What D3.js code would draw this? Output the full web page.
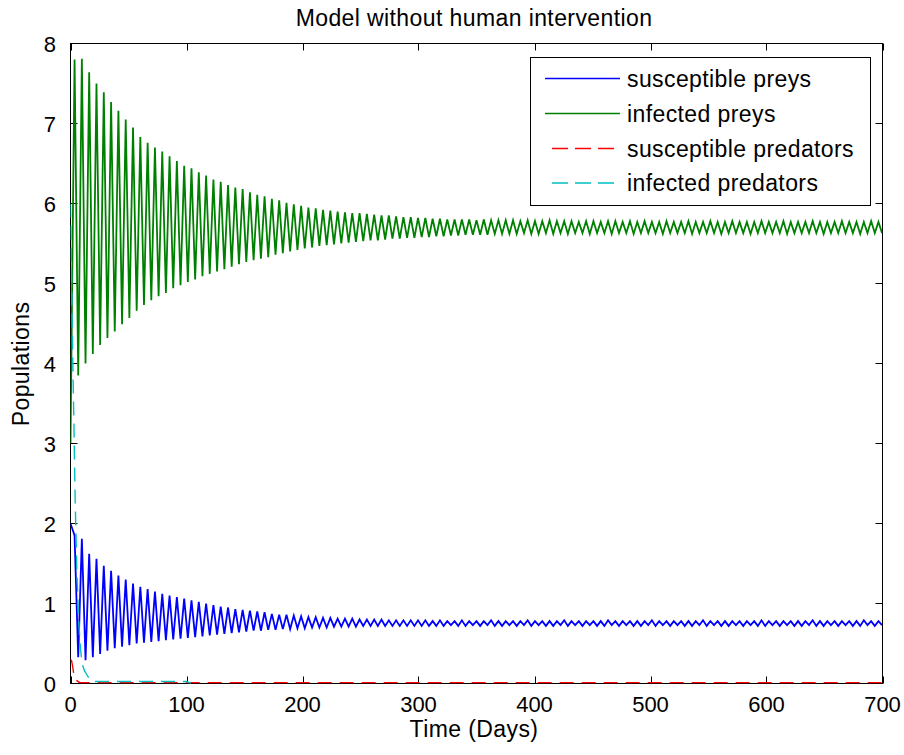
<!DOCTYPE html>
<html>
<head>
<meta charset="utf-8">
<script src="https://cdn.jsdelivr.net/npm/d3@7"></script>
<style>
    body { margin: 0; background: #fff; }
    text { font-family: "Liberation Sans", Arial, sans-serif; fill: #000; }
    .tick-label { font-size: 22px; }
    .label { font-size: 23px; letter-spacing: 0.4px; }
</style>
</head>
<body>
<div id="chart"></div>
<script>

// ---- data ----

// oscillation schedule: first peak and cycle length (days)
var firstPeakDay = 3.5;
var cycleDays = 6.3;

// susceptible preys: start value, then one peak and one trough per cycle
var susPreyStart = 2.0;
var susPreyPeaks = [
    1.85, 1.81, 1.62, 1.56, 1.47, 1.41, 1.35, 1.30, 1.25, 1.21,
    1.18, 1.15, 1.12, 1.10, 1.08, 1.06, 1.04, 1.02, 1.00, 0.98,
    0.96, 0.95, 0.93, 0.92, 0.91, 0.90, 0.89, 0.87, 0.86, 0.86,
    0.85, 0.84, 0.83, 0.83, 0.82, 0.82, 0.81, 0.81, 0.81, 0.80,
    0.80, 0.80, 0.80, 0.79, 0.79, 0.79, 0.79, 0.79, 0.79, 0.78,
    0.79, 0.78, 0.78, 0.79, 0.78, 0.78, 0.78, 0.79, 0.78, 0.78,
    0.78, 0.78, 0.79, 0.78, 0.78, 0.78, 0.78, 0.79, 0.78, 0.78,
    0.78, 0.78, 0.78, 0.79, 0.78, 0.78, 0.78, 0.78, 0.78, 0.79,
    0.78, 0.78, 0.78, 0.78, 0.78, 0.78, 0.79, 0.78, 0.78, 0.78,
    0.78, 0.78, 0.78, 0.78, 0.79, 0.78, 0.78, 0.78, 0.78, 0.78,
    0.78, 0.79, 0.78, 0.78, 0.78, 0.78, 0.78, 0.78, 0.79, 0.78, 0.78
];
var susPreyTroughs = [
    0.33, 0.29, 0.33, 0.37, 0.41, 0.44, 0.46, 0.48, 0.50, 0.51,
    0.52, 0.53, 0.54, 0.55, 0.56, 0.57, 0.58, 0.59, 0.60, 0.61,
    0.62, 0.63, 0.64, 0.65, 0.66, 0.66, 0.67, 0.67, 0.68, 0.68,
    0.69, 0.69, 0.70, 0.70, 0.70, 0.71, 0.71, 0.71, 0.71, 0.72,
    0.72, 0.72, 0.72, 0.72, 0.72, 0.72, 0.72, 0.72, 0.72, 0.72,
    0.72, 0.73, 0.72, 0.72, 0.73, 0.72, 0.73, 0.72, 0.72, 0.73,
    0.72, 0.73, 0.72, 0.73, 0.72, 0.72, 0.73, 0.72, 0.73, 0.72,
    0.73, 0.72, 0.72, 0.73, 0.72, 0.73, 0.72, 0.72, 0.73, 0.72,
    0.73, 0.72, 0.73, 0.72, 0.72, 0.73, 0.72, 0.73, 0.72, 0.72,
    0.73, 0.72, 0.73, 0.72, 0.72, 0.73, 0.72, 0.73, 0.72, 0.72,
    0.73, 0.72, 0.72, 0.73, 0.72, 0.73, 0.72, 0.72, 0.73, 0.72, 0.73
];

// infected preys
var infPreyStart = 3.0;
var infPreyPeaks = [
    7.80, 7.81, 7.64, 7.50, 7.39, 7.27, 7.16, 7.05, 6.95, 6.83,
    6.76, 6.70, 6.65, 6.59, 6.53, 6.47, 6.44, 6.39, 6.35, 6.30,
    6.27, 6.23, 6.20, 6.18, 6.14, 6.11, 6.09, 6.06, 6.04, 6.01,
    5.99, 5.97, 5.95, 5.94, 5.92, 5.91, 5.90, 5.89, 5.88, 5.88,
    5.87, 5.86, 5.85, 5.85, 5.84, 5.83, 5.83, 5.82, 5.82, 5.81,
    5.81, 5.80, 5.80, 5.80, 5.80, 5.79, 5.80, 5.79, 5.79, 5.79,
    5.79, 5.78, 5.79, 5.78, 5.78, 5.79, 5.78, 5.78, 5.78, 5.77,
    5.78, 5.78, 5.77, 5.78, 5.78, 5.77, 5.78, 5.77, 5.78, 5.77,
    5.77, 5.78, 5.77, 5.77, 5.78, 5.77, 5.77, 5.78, 5.77, 5.77,
    5.78, 5.77, 5.77, 5.77, 5.78, 5.77, 5.77, 5.78, 5.77, 5.77,
    5.77, 5.78, 5.77, 5.77, 5.77, 5.78, 5.77, 5.77, 5.77, 5.78, 5.77
];
var infPreyTroughs = [
    3.85, 4.00, 4.12, 4.23, 4.32, 4.40, 4.49, 4.57, 4.66, 4.73,
    4.79, 4.84, 4.88, 4.94, 4.98, 5.02, 5.05, 5.09, 5.12, 5.15,
    5.18, 5.21, 5.24, 5.27, 5.29, 5.31, 5.33, 5.36, 5.38, 5.40,
    5.42, 5.44, 5.45, 5.47, 5.48, 5.49, 5.50, 5.51, 5.52, 5.53,
    5.54, 5.54, 5.55, 5.56, 5.56, 5.57, 5.57, 5.58, 5.58, 5.59,
    5.59, 5.60, 5.60, 5.61, 5.61, 5.61, 5.61, 5.62, 5.62, 5.62,
    5.62, 5.63, 5.62, 5.62, 5.63, 5.62, 5.63, 5.62, 5.63, 5.63,
    5.62, 5.63, 5.63, 5.62, 5.63, 5.63, 5.62, 5.63, 5.63, 5.63,
    5.62, 5.63, 5.63, 5.63, 5.62, 5.63, 5.63, 5.63, 5.62, 5.63,
    5.63, 5.63, 5.62, 5.63, 5.63, 5.63, 5.63, 5.62, 5.63, 5.63,
    5.63, 5.63, 5.62, 5.63, 5.63, 5.63, 5.63, 5.62, 5.63, 5.63, 5.63
];

// predators: (day, value) pairs
var susPredDays = [0, 1, 2, 3, 5, 8, 700];
var susPredVals = [0.30, 0.28, 0.20, 0.10, 0.04, 0.01, 0.01];

var infPredDays = [0, 1, 2, 3, 4, 5.5, 7, 8.5, 10, 12, 14.5, 17, 20, 100, 104];
var infPredVals = [6.0, 5.0, 4.0, 3.2, 2.3, 1.4, 0.8, 0.45, 0.25, 0.16, 0.10, 0.04, 0.025, 0.025, 0];

var legendNames = ['susceptible preys', 'infected preys', 'susceptible predators', 'infected predators'];
var legendColors = ['#0000ff', '#008000', '#ff0000', '#00bfbf'];

var xTicks = [0, 100, 200, 300, 400, 500, 600, 700];
var yTicks = [0, 1, 2, 3, 4, 5, 6, 7, 8];

// ---- build point lists ----

function zigzag(start, peaks, troughs) {
    var pts = [{day: 0, value: start}];
    for (var k = 0; k < peaks.length; k++) {
        var t = firstPeakDay + k * cycleDays;
        pts.push({day: t, value: peaks[k]});
        pts.push({day: t + cycleDays / 2, value: troughs[k]});
    }
    return pts;
}

function pairs(days, vals) {
    return days.map(function(d, i) { return {day: d, value: vals[i]}; });
}

var series = [
    {data: zigzag(susPreyStart, susPreyPeaks, susPreyTroughs), color: legendColors[0], dash: null, w: 1.8},
    {data: zigzag(infPreyStart, infPreyPeaks, infPreyTroughs), color: legendColors[1], dash: null, w: 1.8},
    {data: pairs(susPredDays, susPredVals), color: legendColors[2], dash: '14,8', w: 1.4},
    {data: pairs(infPredDays, infPredVals), color: legendColors[3], dash: '14,8', w: 1.4}
];

// ---- drawing ----

var svgWidth = 904, svgHeight = 755;
var plotLeft = 70.5, plotRight = 882.5, plotTop = 43.5, plotBottom = 683.5;

var svg = d3.select('#chart')
    .append('svg')
    .attr('width', svgWidth)
    .attr('height', svgHeight);

var x = d3.scaleLinear().domain([0, 700]).range([plotLeft, plotRight]);
var y = d3.scaleLinear().domain([0, 8]).range([plotBottom, plotTop]);

// box
svg.append('rect')
    .attr('x', plotLeft).attr('y', plotTop)
    .attr('width', plotRight - plotLeft).attr('height', plotBottom - plotTop)
    .attr('fill', '#fff')
    .attr('stroke', '#000')
    .attr('stroke-width', 1);

// inward ticks on all four sides
var tickLen = 7;
xTicks.forEach(function(t) {
    var xp = Math.round(x(t)) + 0.5;
    svg.append('line').attr('x1', xp).attr('x2', xp)
        .attr('y1', plotBottom).attr('y2', plotBottom - tickLen).attr('stroke', '#000');
    svg.append('line').attr('x1', xp).attr('x2', xp)
        .attr('y1', plotTop).attr('y2', plotTop + tickLen).attr('stroke', '#000');
});
yTicks.forEach(function(t) {
    svg.append('line').attr('x1', plotLeft).attr('x2', plotLeft + tickLen)
        .attr('y1', y(t)).attr('y2', y(t)).attr('stroke', '#000');
    svg.append('line').attr('x1', plotRight).attr('x2', plotRight - tickLen)
        .attr('y1', y(t)).attr('y2', y(t)).attr('stroke', '#000');
});

// tick labels
svg.selectAll('.x-tick')
    .data(xTicks)
    .enter().append('text')
    .attr('class', 'tick-label x-tick')
    .attr('x', function(d) { return x(d); })
    .attr('y', 712)
    .attr('text-anchor', 'middle')
    .text(function(d) { return d; });

svg.selectAll('.y-tick')
    .data(yTicks)
    .enter().append('text')
    .attr('class', 'tick-label y-tick')
    .attr('x', 56)
    .attr('y', function(d) { return y(d) + 8; })
    .attr('text-anchor', 'end')
    .text(function(d) { return d; });

// clip for the lines
svg.append('clipPath')
    .attr('id', 'clip')
    .append('rect')
    .attr('x', plotLeft).attr('y', plotTop)
    .attr('width', plotRight - plotLeft).attr('height', plotBottom - plotTop);

var line = d3.line()
    .x(function(d) { return x(d.day); })
    .y(function(d) { return y(d.value); });

series.forEach(function(s) {
    svg.append('path')
        .datum(s.data)
        .attr('clip-path', 'url(#clip)')
        .attr('fill', 'none')
        .attr('stroke', s.color)
        .attr('stroke-width', s.w)
        .attr('stroke-dasharray', s.dash)
        .attr('d', line);
});

// titles
svg.append('text')
    .attr('class', 'label')
    .attr('x', 474).attr('y', 26)
    .attr('text-anchor', 'middle')
    .text('Model without human intervention');

svg.append('text')
    .attr('class', 'label')
    .attr('x', 474).attr('y', 737)
    .attr('text-anchor', 'middle')
    .text('Time (Days)');

svg.append('text')
    .attr('class', 'label')
    .attr('transform', 'translate(29,364) rotate(-90)')
    .attr('text-anchor', 'middle')
    .text('Populations');

// legend
var legend = svg.append('g');
legend.append('rect')
    .attr('x', 530.5).attr('y', 57.5)
    .attr('width', 340).attr('height', 148)
    .attr('fill', '#fff')
    .attr('stroke', '#000');

var rowY = [78.5, 113.5, 148.5, 183];
legendNames.forEach(function(name, i) {
    var dashed = series[i].dash;
    legend.append('line')
        .attr('x1', dashed ? 552 : 545).attr('x2', 620)
        .attr('y1', rowY[i]).attr('y2', rowY[i])
        .attr('stroke', legendColors[i])
        .attr('stroke-width', 1.4)
        .attr('stroke-dasharray', dashed ? '16,7' : null);
    legend.append('text')
        .attr('class', 'label')
        .attr('x', 627)
        .attr('y', rowY[i] + 8)
        .text(name);
});

</script>
</body>
</html>
